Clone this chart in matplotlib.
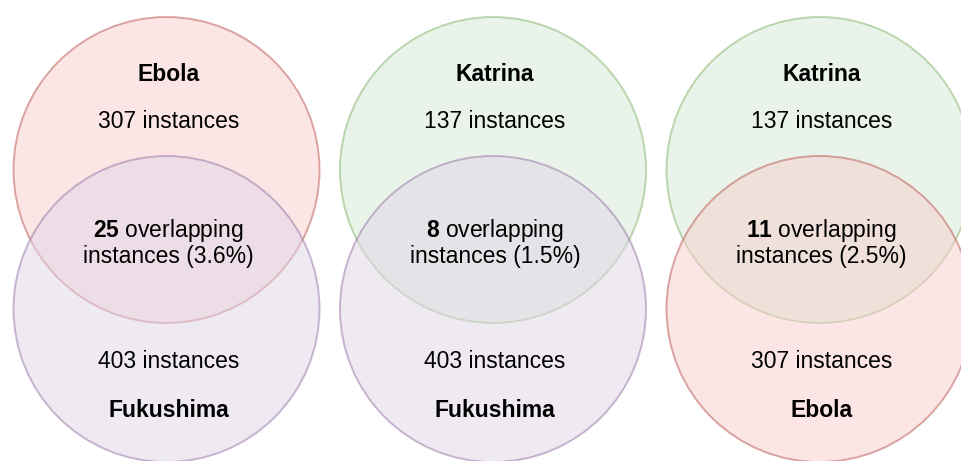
import matplotlib
matplotlib.use("Agg")
import matplotlib.pyplot as plt
from matplotlib.patches import Circle

plt.rcParams['font.family'] = ['Liberation Sans', 'DejaVu Sans']
plt.rcParams['mathtext.fontset'] = 'custom'
plt.rcParams['mathtext.rm'] = 'Liberation Sans'
plt.rcParams['mathtext.bf'] = 'Liberation Sans:bold'

# data
top_names = ['Ebola', 'Katrina', 'Katrina']
bottom_names = ['Fukushima', 'Fukushima', 'Ebola']
top_counts = [307, 137, 137]
bottom_counts = [403, 403, 307]
overlaps = [25, 8, 11]
overlap_pct = [3.6, 1.5, 2.5]

# draw.io-style colours (fill, stroke) per event
colors = {
    'Ebola': ('#f8cecc', '#b85450'),
    'Katrina': ('#d5e8d4', '#82b366'),
    'Fukushima': ('#e1d5e7', '#9673a6'),
}

fig = plt.figure(figsize=(9.61, 4.61), dpi=100)
ax = fig.add_axes([0, 0, 1, 1])
ax.set_xlim(0, 961)
ax.set_ylim(461, 0)
ax.set_aspect('equal')
ax.axis('off')

r = 153
top_y, bot_y = 170, 309
fs = 16.5

for i in range(3):
    cx = 166.5 + i * 326.5
    for name, cy in [(top_names[i], top_y), (bottom_names[i], bot_y)]:
        fc, ec = colors[name]
        ax.add_patch(Circle((cx, cy), r, facecolor=fc, alpha=0.5, lw=0))
        ax.add_patch(Circle((cx, cy), r, facecolor='none', edgecolor=ec,
                            alpha=0.5, lw=1.4))
    tx = cx + 2
    ax.text(tx, 81, top_names[i], ha='center', va='baseline', fontsize=fs, fontweight='bold')
    ax.text(tx, 128, f"{top_counts[i]} instances", ha='center', va='baseline', fontsize=fs)
    ax.text(tx, 237, rf"$\mathbf{{{overlaps[i]}}}$ overlapping", ha='center', va='baseline', fontsize=fs)
    ax.text(tx, 263, f"instances ({overlap_pct[i]}%)", ha='center', va='baseline', fontsize=fs)
    ax.text(tx, 368, f"{bottom_counts[i]} instances", ha='center', va='baseline', fontsize=fs)
    ax.text(tx, 417, bottom_names[i], ha='center', va='baseline', fontsize=fs, fontweight='bold')

fig.savefig('out.png', dpi=100)
